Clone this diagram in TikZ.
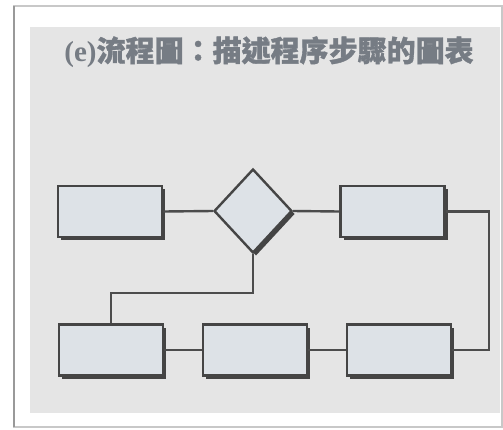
\documentclass[tikz,border=0pt]{standalone}
\usepackage{fontspec}
\newfontfamily\cjk[FakeBold=1.2]{Noto Sans CJK TC}
\newfontfamily\latinser{Liberation Serif}
\usetikzlibrary{shapes.geometric,shadows}
\definecolor{panelbg}{HTML}{E5E5E5}
\definecolor{boxfill}{HTML}{DDE2E7}
\definecolor{boxline}{HTML}{454545}
\definecolor{linecol}{HTML}{4C4C4C}
\definecolor{titlecol}{HTML}{767C84}
\definecolor{framecol}{HTML}{C8C8C8}
\tikzset{
  stepbox/.style={draw=boxline, line width=2.4pt, fill=boxfill,
    minimum width=104pt, minimum height=51pt, inner sep=0pt,
    drop shadow={shadow xshift=3pt, shadow yshift=-3pt, fill=black!80, opacity=0.9}},
  decide/.style={diamond, draw=boxline, line width=2.4pt, fill=boxfill,
    minimum width=78pt, minimum height=84pt, inner sep=0pt,
    drop shadow={shadow xshift=3pt, shadow yshift=-3pt, fill=black!80, opacity=0.9}},
  link/.style={draw=linecol, line width=2.4pt}
}
\begin{document}
\begin{tikzpicture}[x=1pt,y=-1pt]
\useasboundingbox (0,0) rectangle (503,429);
\fill[white] (0,0) rectangle (503,429);
% outer frame
\draw[framecol, line width=1.5pt] (14,6) rectangle (502,427);
\draw[black!40, line width=1.5pt] (14,427) -- (14,6);
\fill[panelbg] (30,27) rectangle (500,413);
% title
\node[text=titlecol, anchor=center, inner sep=0pt] (title) at (269,52)
  {\fontsize{29pt}{32pt}\latinser\bfseries (e)\cjk 流程圖：描述程序步驟的圖表};
% coordinates for bends
\coordinate (c1) at (489,211.5);
\coordinate (c2) at (253,293);
% nodes
\node[stepbox] (box1) at (110,211.5) {};
\node[decide] (dia) at (253,211) {};
\node[stepbox] (box2) at (392.5,211.5) {};
\node[stepbox] (box3) at (111,350) {};
\node[stepbox] (box4) at (255,350) {};
\node[stepbox] (box5) at (399,350) {};
% connectors
\draw[link] (box1.east) -- (dia.west);
\draw[link] (dia.east) -- (box2.west);
\draw[link] (box2.east) -- (c1) |- (box5.east);
\draw[link] (dia.south) -- (c2) -| (box3.north);
\draw[link] (box3.east) -- (box4.west);
\draw[link] (box4.east) -- (box5.west);
\end{tikzpicture}
\end{document}
